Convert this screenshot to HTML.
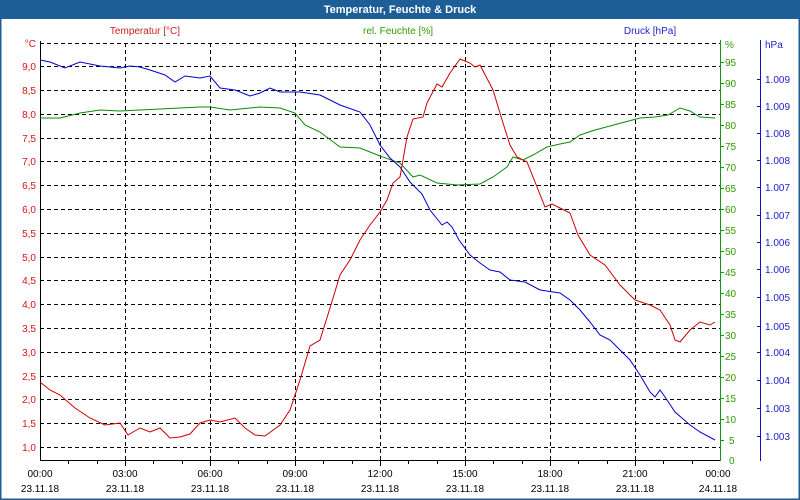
<!DOCTYPE html>
<html><head><meta charset="utf-8"><style>
html,body{margin:0;padding:0;width:800px;height:500px;overflow:hidden;background:#fff}
svg{display:block;font-family:"Liberation Sans",sans-serif}
</style></head><body>
<svg width="800" height="500" viewBox="0 0 800 500">
<rect x="0" y="0" width="800" height="500" fill="#fff"/>
<rect x="0" y="0" width="800" height="19" fill="#1e5e97"/>
<rect x="0.5" y="0.5" width="799" height="499" fill="none" stroke="#1e5e97" stroke-width="2"/>
<text x="400" y="13" fill="#fff" font-size="11" font-weight="bold" text-anchor="middle">Temperatur, Feuchte &amp; Druck</text>
<text x="145" y="34" fill="#cc2222" font-size="10" text-anchor="middle">Temperatur [°C]</text>
<text x="398" y="34" fill="#339900" font-size="10" text-anchor="middle">rel. Feuchte [%]</text>
<text x="650" y="34" fill="#2222cc" font-size="10" text-anchor="middle">Druck [hPa]</text>
<g stroke="#000" stroke-width="1" stroke-dasharray="4,3" fill="none">
<line x1="40" y1="43.5" x2="720" y2="43.5"/>
<line x1="40" y1="66.5" x2="720" y2="66.5"/><line x1="40" y1="90.5" x2="720" y2="90.5"/>
<line x1="40" y1="114.5" x2="720" y2="114.5"/><line x1="40" y1="138.5" x2="720" y2="138.5"/>
<line x1="40" y1="161.5" x2="720" y2="161.5"/><line x1="40" y1="185.5" x2="720" y2="185.5"/>
<line x1="40" y1="209.5" x2="720" y2="209.5"/><line x1="40" y1="233.5" x2="720" y2="233.5"/>
<line x1="40" y1="257.5" x2="720" y2="257.5"/><line x1="40" y1="280.5" x2="720" y2="280.5"/>
<line x1="40" y1="304.5" x2="720" y2="304.5"/><line x1="40" y1="328.5" x2="720" y2="328.5"/>
<line x1="40" y1="352.5" x2="720" y2="352.5"/><line x1="40" y1="376.5" x2="720" y2="376.5"/>
<line x1="40" y1="399.5" x2="720" y2="399.5"/><line x1="40" y1="423.5" x2="720" y2="423.5"/>
<line x1="40" y1="447.5" x2="720" y2="447.5"/>
<line x1="125.5" y1="43" x2="125.5" y2="460"/><line x1="210.5" y1="43" x2="210.5" y2="460"/>
<line x1="295.5" y1="43" x2="295.5" y2="460"/><line x1="380.5" y1="43" x2="380.5" y2="460"/>
<line x1="465.5" y1="43" x2="465.5" y2="460"/><line x1="550.5" y1="43" x2="550.5" y2="460"/>
<line x1="635.5" y1="43" x2="635.5" y2="460"/>
</g>
<line x1="40.5" y1="41" x2="40.5" y2="461" stroke="#000"/>
<line x1="40" y1="460.5" x2="720" y2="460.5" stroke="#000"/>
<g stroke="#000"><line x1="68.5" y1="460" x2="68.5" y2="464"/><line x1="97.5" y1="460" x2="97.5" y2="464"/><line x1="125.5" y1="460" x2="125.5" y2="466"/><line x1="153.5" y1="460" x2="153.5" y2="464"/><line x1="182.5" y1="460" x2="182.5" y2="464"/><line x1="210.5" y1="460" x2="210.5" y2="466"/><line x1="238.5" y1="460" x2="238.5" y2="464"/><line x1="267.5" y1="460" x2="267.5" y2="464"/><line x1="295.5" y1="460" x2="295.5" y2="466"/><line x1="323.5" y1="460" x2="323.5" y2="464"/><line x1="352.5" y1="460" x2="352.5" y2="464"/><line x1="380.5" y1="460" x2="380.5" y2="466"/><line x1="408.5" y1="460" x2="408.5" y2="464"/><line x1="437.5" y1="460" x2="437.5" y2="464"/><line x1="465.5" y1="460" x2="465.5" y2="466"/><line x1="493.5" y1="460" x2="493.5" y2="464"/><line x1="522.5" y1="460" x2="522.5" y2="464"/><line x1="550.5" y1="460" x2="550.5" y2="466"/><line x1="578.5" y1="460" x2="578.5" y2="464"/><line x1="607.5" y1="460" x2="607.5" y2="464"/><line x1="635.5" y1="460" x2="635.5" y2="466"/><line x1="663.5" y1="460" x2="663.5" y2="464"/><line x1="692.5" y1="460" x2="692.5" y2="464"/></g>
<line x1="720.5" y1="40" x2="720.5" y2="461" stroke="#119911"/>
<line x1="760.5" y1="40" x2="760.5" y2="461" stroke="#1111cc"/>
<g fill="#dd1111" font-size="10" text-anchor="end">
<text x="36" y="47">°C</text><text x="36" y="70">9,0</text><text x="36" y="94">8,5</text><text x="36" y="118">8,0</text><text x="36" y="142">7,5</text><text x="36" y="165">7,0</text><text x="36" y="189">6,5</text><text x="36" y="213">6,0</text><text x="36" y="237">5,5</text><text x="36" y="261">5,0</text><text x="36" y="284">4,5</text><text x="36" y="308">4,0</text><text x="36" y="332">3,5</text><text x="36" y="356">3,0</text><text x="36" y="380">2,5</text><text x="36" y="403">2,0</text><text x="36" y="427">1,5</text><text x="36" y="451">1,0</text>
</g>
<g stroke="#119911"><line x1="720" y1="62.5" x2="724" y2="62.5"/><line x1="720" y1="83.5" x2="724" y2="83.5"/><line x1="720" y1="104.5" x2="724" y2="104.5"/><line x1="720" y1="125.5" x2="724" y2="125.5"/><line x1="720" y1="146.5" x2="724" y2="146.5"/><line x1="720" y1="167.5" x2="724" y2="167.5"/><line x1="720" y1="188.5" x2="724" y2="188.5"/><line x1="720" y1="209.5" x2="724" y2="209.5"/><line x1="720" y1="230.5" x2="724" y2="230.5"/><line x1="720" y1="251.5" x2="724" y2="251.5"/><line x1="720" y1="272.5" x2="724" y2="272.5"/><line x1="720" y1="293.5" x2="724" y2="293.5"/><line x1="720" y1="314.5" x2="724" y2="314.5"/><line x1="720" y1="335.5" x2="724" y2="335.5"/><line x1="720" y1="356.5" x2="724" y2="356.5"/><line x1="720" y1="377.5" x2="724" y2="377.5"/><line x1="720" y1="398.5" x2="724" y2="398.5"/><line x1="720" y1="419.5" x2="724" y2="419.5"/><line x1="720" y1="440.5" x2="724" y2="440.5"/></g>
<g fill="#339900" font-size="10">
<text x="725" y="48">%</text><text x="725" y="66">95</text><text x="725" y="87">90</text><text x="725" y="108">85</text><text x="725" y="129">80</text><text x="725" y="150">75</text><text x="725" y="171">70</text><text x="725" y="192">65</text><text x="725" y="213">60</text><text x="725" y="234">55</text><text x="725" y="255">50</text><text x="725" y="276">45</text><text x="725" y="297">40</text><text x="725" y="318">35</text><text x="725" y="339">30</text><text x="725" y="360">25</text><text x="725" y="381">20</text><text x="725" y="402">15</text><text x="725" y="423">10</text><text x="729" y="444">5</text><text x="729" y="464">0</text>
</g>
<g fill="#2222cc" font-size="10">
<text x="765" y="48">hPa</text>
<text x="765" y="83">1.009</text><text x="765" y="110">1.009</text><text x="765" y="137">1.008</text><text x="765" y="164">1.008</text><text x="765" y="191">1.007</text><text x="765" y="219">1.007</text><text x="765" y="246">1.006</text><text x="765" y="273">1.006</text><text x="765" y="301">1.005</text><text x="765" y="330">1.005</text><text x="765" y="356">1.004</text><text x="765" y="384">1.004</text><text x="765" y="412">1.003</text><text x="765" y="440">1.003</text>
</g>
<g stroke="#1111cc"><line x1="757" y1="79.5" x2="760" y2="79.5"/><line x1="757" y1="106.5" x2="760" y2="106.5"/><line x1="757" y1="133.5" x2="760" y2="133.5"/><line x1="757" y1="160.5" x2="760" y2="160.5"/><line x1="757" y1="187.5" x2="760" y2="187.5"/><line x1="757" y1="215.5" x2="760" y2="215.5"/><line x1="757" y1="242.5" x2="760" y2="242.5"/><line x1="757" y1="269.5" x2="760" y2="269.5"/><line x1="757" y1="297.5" x2="760" y2="297.5"/><line x1="757" y1="326.5" x2="760" y2="326.5"/><line x1="757" y1="352.5" x2="760" y2="352.5"/><line x1="757" y1="380.5" x2="760" y2="380.5"/><line x1="757" y1="408.5" x2="760" y2="408.5"/><line x1="757" y1="436.5" x2="760" y2="436.5"/></g>
<g fill="#000" font-size="10" text-anchor="middle">
<text x="40" y="477">00:00</text><text x="125" y="477">03:00</text><text x="210" y="477">06:00</text><text x="295" y="477">09:00</text><text x="380" y="477">12:00</text><text x="465" y="477">15:00</text><text x="550" y="477">18:00</text><text x="635" y="477">21:00</text><text x="718" y="477">00:00</text>
<text x="40" y="492">23.11.18</text><text x="125" y="492">23.11.18</text><text x="210" y="492">23.11.18</text><text x="295" y="492">23.11.18</text><text x="380" y="492">23.11.18</text><text x="465" y="492">23.11.18</text><text x="550" y="492">23.11.18</text><text x="635" y="492">23.11.18</text><text x="718" y="492">24.11.18</text>
</g>
<polyline fill="none" stroke="#0a8a0a" stroke-width="1" points="40,118 60,118 80,113 100,110 120,111 140,110 160,109 180,108 200,107 210,107 230,110 260,107 280,108 295,113 305,125 320,132 340,147 360,148 380,156 400,163 413,177 420,175 437,183 457,185 480,184 493,177 507,167 513,157 523,160 533,155 547,147 560,144 570,142 580,135 595,130 610,126 625,122 640,118 655,117 668,115 680,108 690,111 700,117 715,118"/>
<polyline fill="none" stroke="#0000cc" stroke-width="1" points="40,60 50,62 65,68 80,62 100,66 120,68 130,66 140,67 150,70 165,75 175,82 185,76 200,78 210,76 220,88 235,90 250,96 260,93 270,88 280,92 300,92 320,95 340,105 360,112 370,125 380,145 390,158 400,167 410,182 422,194 430,210 442,225 447,222 452,227 459,240 470,255 480,263 490,270 500,272 510,280 525,282 540,290 560,293 570,300 580,310 590,322 600,335 610,340 620,350 630,360 640,375 650,392 655,397 660,390 665,397 675,412 690,425 700,432 715,440"/>
<polyline fill="none" stroke="#cc0000" stroke-width="1" points="40,382 50,390 60,395 75,408 90,418 105,425 120,423 128,435 140,428 150,432 160,428 170,438 180,437 190,434 200,423 210,420 220,422 235,418 245,428 255,435 265,436 280,425 290,410 300,380 310,346 320,340 330,308 340,275 350,260 360,240 370,225 380,212 387,200 393,183 400,177 407,137 413,119 423,117 427,103 437,84 442,87 450,73 460,59 470,63 475,67 480,65 493,90 503,123 510,145 517,157 527,162 537,187 545,207 552,204 562,209 570,213 578,235 590,255 605,265 620,285 635,300 650,305 660,310 670,325 675,340 680,342 690,330 700,322 710,325 715,322"/>
</svg>
</body></html>
